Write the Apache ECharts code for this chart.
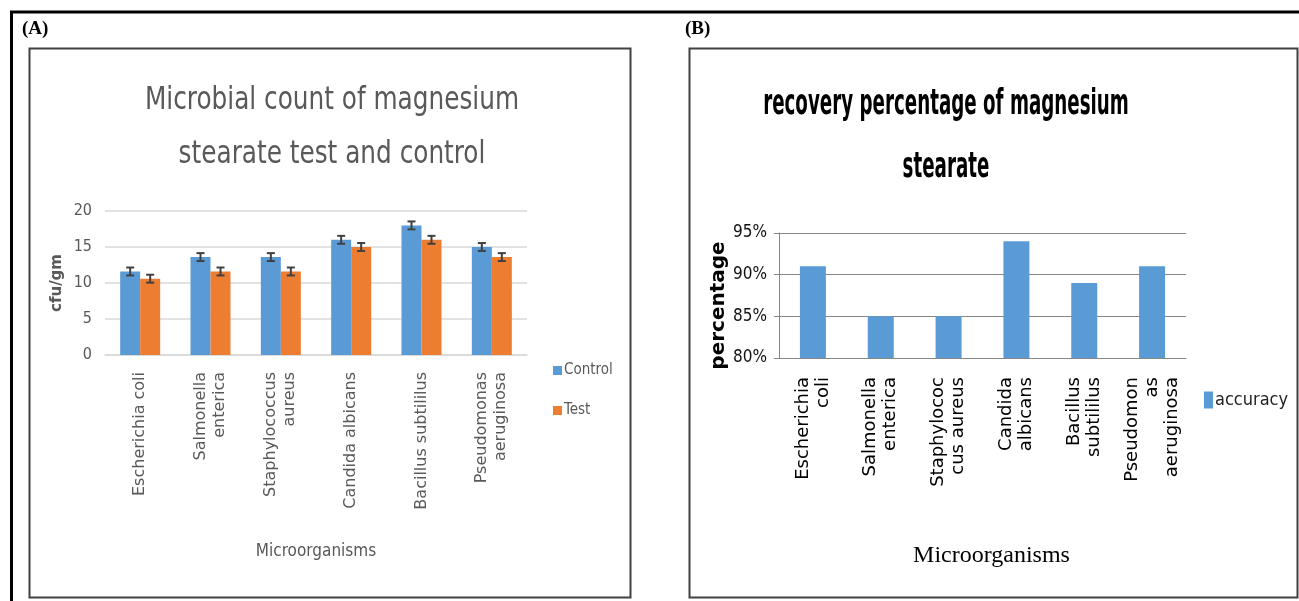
<!DOCTYPE html>
<html>
<head>
<meta charset="utf-8">
<script src="https://cdn.jsdelivr.net/npm/echarts@6/dist/echarts.min.js"></script>
<style>
html,body{margin:0;padding:0;background:#fff;}
#c{width:1299px;height:601px;}
</style>
</head>
<body>
<div id="c"></div>
<script>
// ---- Data ----
const titleA = 'Microbial count of magnesium\nstearate test and control';
const categoriesA = ['Escherichia coli', 'Salmonella\nenterica', 'Staphylococcus\naureus', 'Candida albicans', 'Bacillus subtililus', 'Pseudomonas\naeruginosa'];
const controlValues = [11.6, 13.6, 13.6, 16.0, 18.0, 15.0];
const testValues = [10.6, 11.6, 11.6, 15.0, 16.0, 13.6];
const controlErrors = [0.55, 0.55, 0.55, 0.55, 0.55, 0.55];
const testErrors = [0.55, 0.55, 0.55, 0.55, 0.55, 0.55];
const yTicksA = [0, 5, 10, 15, 20];

const titleB = 'recovery percentage of magnesium\nstearate';
const categoriesB = ['Escherichia\ncoli', 'Salmonella\nenterica', 'Staphylococ\ncus aureus', 'Candida\nalbicans', 'Bacillus\nsubtililus', 'Pseudomon\nas\naeruginosa'];
const accuracyValues = [91, 85, 85, 94, 89, 91];
const yTicksB = [80, 85, 90, 95];

// ---- Styling ----
const NARROW = '"Liberation Sans Narrow", "DejaVu Sans Condensed", "Liberation Sans", sans-serif';
const GRAY = '#595959';
const BLUE = '#5b9bd5';
const ORANGE = '#ed7d31';
const BAR_W = 20;

const chart = echarts.init(document.getElementById('c'), null, {renderer: 'canvas'});

function errorSeries(name, vals, errs, side) {
  return {
    type: 'custom',
    name: name + ' error',
    xAxisIndex: 0,
    yAxisIndex: 0,
    silent: true,
    z: 10,
    encode: {x: 0, y: 1},
    data: vals.map((v, i) => [i, v, errs[i]]),
    renderItem: function (params, api) {
      const i = api.value(0), v = api.value(1), e = api.value(2);
      const c = api.coord([i, v]);
      const x = c[0] + side * BAR_W / 2;
      const yTop = api.coord([i, v + e])[1];
      const yBot = api.coord([i, v - e])[1];
      const cap = 4;
      const st = {stroke: '#404040', lineWidth: 2};
      return {
        type: 'group',
        children: [
          {type: 'line', shape: {x1: x, y1: yTop, x2: x, y2: yBot}, style: st},
          {type: 'line', shape: {x1: x - cap, y1: yTop, x2: x + cap, y2: yTop}, style: st},
          {type: 'line', shape: {x1: x - cap, y1: yBot, x2: x + cap, y2: yBot}, style: st}
        ]
      };
    }
  };
}

const option = {
  backgroundColor: '#ffffff',
  animation: false,
  legend: [
    {
      data: ['Control', 'Test'],
      orient: 'vertical',
      left: 553, top: 363, padding: 0,
      itemWidth: 9, itemHeight: 9, itemGap: 25,
      icon: 'rect',
      textStyle: {fontFamily: NARROW, fontSize: 15, color: GRAY, padding: [0, 0, 0, -3]}
    },
    {
      data: ['accuracy'],
      orient: 'vertical',
      left: 1204, top: 391, padding: 0,
      itemWidth: 9, itemHeight: 17,
      icon: 'rect',
      textStyle: {fontFamily: NARROW, fontSize: 18, color: '#222', padding: [0, 0, 0, -3]}
    }
  ],
  grid: [
    {left: 105, top: 211, width: 422, height: 144, containLabel: false},
    {left: 779, top: 233, width: 407, height: 125, containLabel: false}
  ],
  xAxis: [
    {
      type: 'category', gridIndex: 0, data: categoriesA,
      axisLine: {lineStyle: {color: '#d9d9d9', width: 1.5}},
      axisTick: {show: false},
      axisLabel: {interval: 0, rotate: 90, margin: 17, fontFamily: '"DejaVu Sans", sans-serif', fontSize: 16, color: GRAY, lineHeight: 19},
      name: 'Microorganisms', nameLocation: 'middle', nameGap: 188,
      nameTextStyle: {fontFamily: NARROW, fontSize: 17, color: GRAY}
    },
    {
      type: 'category', gridIndex: 1, data: categoriesB,
      axisLine: {lineStyle: {color: '#868686', width: 1}},
      axisTick: {show: false},
      axisLabel: {interval: 0, rotate: 90, margin: 19, fontFamily: '"DejaVu Sans", sans-serif', fontSize: 18, color: '#000', lineHeight: 20},
      name: 'Microorganisms', nameLocation: 'middle', nameGap: 186,
      nameTextStyle: {fontFamily: '"Liberation Serif", "Times New Roman", serif', fontSize: 24, color: '#000', padding: [0, 0, 0, 18]}
    }
  ],
  yAxis: [
    {
      type: 'value', gridIndex: 0, min: yTicksA[0], max: yTicksA[yTicksA.length - 1], interval: 5,
      axisLine: {show: false}, axisTick: {show: false},
      splitLine: {lineStyle: {color: '#d9d9d9', width: 1.5}},
      axisLabel: {margin: 13, fontFamily: NARROW, fontSize: 16, color: GRAY},
      name: 'cfu/gm', nameLocation: 'middle', nameGap: 40, nameRotate: 90,
      nameTextStyle: {fontFamily: '"DejaVu Sans", sans-serif', fontSize: 15, fontWeight: 'bold', color: GRAY}
    },
    {
      type: 'value', gridIndex: 1, min: yTicksB[0], max: yTicksB[yTicksB.length - 1], interval: 5,
      axisLine: {show: true, lineStyle: {color: '#868686', width: 1}},
      axisTick: {show: true, length: 5, lineStyle: {color: '#868686'}},
      splitLine: {lineStyle: {color: '#868686', width: 1}},
      axisLabel: {margin: 12, fontFamily: NARROW, fontSize: 17, color: '#111', formatter: '{value}%'},
      name: 'percentage', nameLocation: 'middle', nameGap: 44, nameRotate: 90,
      nameTextStyle: {fontFamily: '"DejaVu Sans", sans-serif', fontSize: 20, fontWeight: 'bold', color: '#000', padding: [0, 20, 0, 0]}
    }
  ],
  series: [
    {name: 'Control', type: 'bar', xAxisIndex: 0, yAxisIndex: 0, data: controlValues, barWidth: BAR_W, barGap: '0%',
      itemStyle: {color: BLUE}},
    {name: 'Test', type: 'bar', xAxisIndex: 0, yAxisIndex: 0, data: testValues, barWidth: BAR_W, barGap: '0%',
      itemStyle: {color: ORANGE}},
    errorSeries('Control', controlValues, controlErrors, -1),
    errorSeries('Test', testValues, testErrors, 1),
    {name: 'accuracy', type: 'bar', xAxisIndex: 1, yAxisIndex: 1, data: accuracyValues, barWidth: 26,
      itemStyle: {color: BLUE}}
  ],
  graphic: [
    // outer frame
    {type: 'line', shape: {x1: 10, y1: 12, x2: 1299, y2: 12}, style: {stroke: '#000', lineWidth: 3}},
    {type: 'line', shape: {x1: 11.5, y1: 12, x2: 11.5, y2: 601}, style: {stroke: '#000', lineWidth: 3}},
    // panel boxes
    {type: 'rect', shape: {x: 29.5, y: 48.5, width: 601, height: 549}, style: {fill: null, stroke: '#404040', lineWidth: 2}},
    {type: 'rect', shape: {x: 689.5, y: 48.5, width: 608, height: 549}, style: {fill: null, stroke: '#404040', lineWidth: 2}},
    // panel labels
    {type: 'text', left: 22, top: 20, style: {text: '(A)', font: 'bold 19px "Liberation Serif", serif', fill: '#000'}},
    {type: 'text', left: 685, top: 20, style: {text: '(B)', font: 'bold 19px "Liberation Serif", serif', fill: '#000'}},
    // chart titles (condensed horizontally like the reference)
    {type: 'text', x: 332, y: 128, scaleX: 0.86, z: 20,
      style: {text: titleA, align: 'center', verticalAlign: 'middle', textAlign: 'center', textVerticalAlign: 'middle',
        font: 'normal 32px "DejaVu Sans Condensed", "DejaVu Sans", sans-serif', lineHeight: 54, fill: GRAY}},
    {type: 'text', x: 946, y: 136.5, scaleX: 0.58, z: 20,
      style: {text: titleB, align: 'center', verticalAlign: 'middle', textAlign: 'center', textVerticalAlign: 'middle',
        font: 'bold 35px "DejaVu Sans Condensed", "DejaVu Sans", sans-serif', lineHeight: 63, fill: '#000'}}
  ]
};

chart.setOption(option);
</script>
</body>
</html>
